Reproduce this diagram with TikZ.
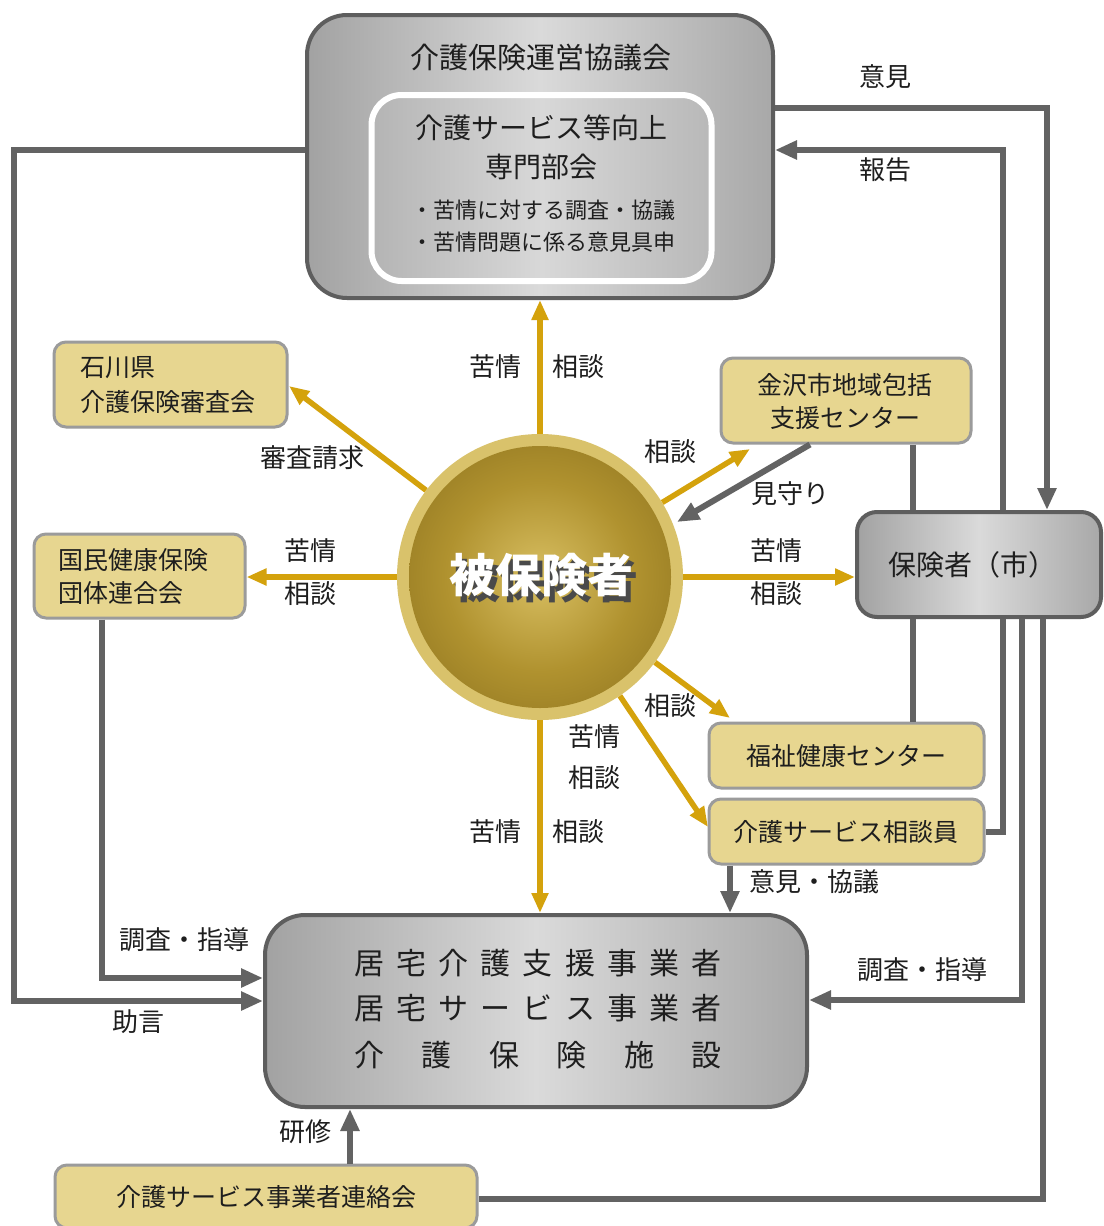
\documentclass[tikz,border=0pt]{standalone}
\usepackage{fontspec}
\newfontfamily\jp{Noto Sans CJK JP}
\usetikzlibrary{arrows.meta}
\definecolor{lineg}{HTML}{636363}
\definecolor{gold}{HTML}{D4A20C}
\definecolor{yfill}{HTML}{E7D690}
\definecolor{ydraw}{HTML}{9B9B9B}
\definecolor{boxdraw}{HTML}{5E5E5E}
\definecolor{gL}{HTML}{A2A2A2}
\definecolor{gM}{HTML}{DADADA}
\definecolor{gR}{HTML}{A8A8A8}
\definecolor{iL}{HTML}{B4B4B4}
\definecolor{iM}{HTML}{D8D8D8}
\definecolor{iR}{HTML}{B8B8B8}
\definecolor{txt}{HTML}{1E1E1E}
\definecolor{ring}{HTML}{D9C26B}
\definecolor{orbin}{HTML}{D8BF62}
\definecolor{orbmid}{HTML}{B0922F}
\definecolor{orbout}{HTML}{6E5710}
\definecolor{shad}{HTML}{4A4A4A}
\pgfdeclareradialshading{orb}{\pgfpoint{0bp}{0bp}}{color(0bp)=(orbin); color(18bp)=(orbmid); color(50bp)=(orbout)}
\begin{document}
\begin{tikzpicture}[x=1pt,y=-1pt,
  gbox/.style={draw=boxdraw, line width=4pt, left color=gL, right color=gR, middle color=gM, inner sep=0pt},
  ybox/.style={draw=ydraw, line width=3pt, fill=yfill, rounded corners=12pt, inner sep=0pt},
  lbl/.style={font=\jp\fontsize{26}{30}\selectfont, text=txt, inner sep=0pt},
  ytxt/.style={font=\jp\fontsize{25}{29}\selectfont, text=txt, inner sep=0pt},
  goldarr/.style={draw=gold, line width=5.5pt, -{Triangle[length=20pt,width=16pt]}},
  grayln/.style={draw=lineg, line width=6pt},
  grayarr/.style={grayln, -{Triangle[length=22pt,width=18pt]}},
]
\useasboundingbox (0,0) rectangle (1103,1226);
\fill[white] (0,0) rectangle (1103,1226);

% ---- boxes ----
\node[gbox, rounded corners=40pt, minimum width=466pt, minimum height=283pt] (kyo) at (540,156.5) {};
\node[draw=white, line width=6pt, rounded corners=30pt, left color=iL, right color=iR, middle color=iM, minimum width=340pt, minimum height=186pt, inner sep=0pt] (sen) at (541.5,188) {};
\node[lbl, font=\jp\fontsize{29}{32}\selectfont] (kyoT) at (541,58) {介護保険運営協議会};
\node[lbl, font=\jp\fontsize{28}{32}\selectfont] (senT1) at (541,128) {介護サービス等向上};
\node[lbl, font=\jp\fontsize{28}{32}\selectfont] (senT2) at (541,167) {専門部会};
\node[lbl, font=\jp\fontsize{22}{26}\selectfont] (senT3) at (543,210) {・苦情に対する調査・協議};
\node[lbl, font=\jp\fontsize{22}{26}\selectfont] (senT4) at (543,242) {・苦情問題に係る意見具申};

\node[gbox, rounded corners=20pt, minimum width=244pt, minimum height=105pt] (hoken) at (979,564.5) {};
\node[lbl, font=\jp\fontsize{28}{32}\selectfont] (hokenT) at (972,565) {保険者（市）};

\node[gbox, rounded corners=40pt, minimum width=542pt, minimum height=192pt] (kyotaku) at (536,1011) {};
\node[lbl, font=\jp\fontsize{30}{34}\selectfont] (kyT1) at (538,963) {\makebox[368pt][s]{居\hfill 宅\hfill 介\hfill 護\hfill 支\hfill 援\hfill 事\hfill 業\hfill 者}};
\node[lbl, font=\jp\fontsize{30}{34}\selectfont] (kyT2) at (538,1008) {\makebox[368pt][s]{居\hfill 宅\hfill サ\hfill ー\hfill ビ\hfill ス\hfill 事\hfill 業\hfill 者}};
\node[lbl, font=\jp\fontsize{30}{34}\selectfont] (kyT3) at (538,1055) {\makebox[368pt][s]{介\hfill 護\hfill 保\hfill 険\hfill 施\hfill 設}};

\node[ybox, minimum width=233pt, minimum height=85pt] (ishi) at (170.5,384.5) {};
\node[ytxt, anchor=west] (ishiT1) at (80,368) {石川県};
\node[ytxt, anchor=west] (ishiT2) at (80,402) {介護保険審査会};

\node[ybox, minimum width=211pt, minimum height=84pt] (kokuho) at (139.5,576) {};
\node[ytxt, anchor=west] (kokuT1) at (58,560) {国民健康保険};
\node[ytxt, anchor=west] (kokuT2) at (58,593) {団体連合会};

\node[ybox, minimum width=250pt, minimum height=85pt] (kana) at (846,400.5) {};
\node[ytxt] (kanaT1) at (845,385) {金沢市地域包括};
\node[ytxt] (kanaT2) at (845,418) {支援センター};

\node[ybox, minimum width=275pt, minimum height=65pt] (fuku) at (846.5,755.5) {};
\node[ytxt] (fukuT) at (846,756) {福祉健康センター};

\node[ybox, minimum width=275pt, minimum height=65pt] (soudan) at (846.5,831.5) {};
\node[ytxt] (soudanT) at (846,832) {介護サービス相談員};

\node[ybox, minimum width=422pt, minimum height=63pt] (renraku) at (266,1196.5) {};
\node[ytxt] (renrakuT) at (266,1197) {介護サービス事業者連絡会};

% ---- central circle ----
\node[circle, fill=ring, minimum size=286pt, inner sep=0pt] (hi) at (540,577) {};
\node[circle, shading=orb, minimum size=262pt, inner sep=0pt] (hiIn) at (540,577) {};
\node[lbl, font=\jp\bfseries\fontsize{46}{50}\selectfont, text=white] (hiT) at (541,578)
  {\makebox[0pt][l]{\hspace{5pt}\raisebox{-6pt}{\textcolor{shad}{被保険者}}}被保険者};

% ---- gold arrows ----
\coordinate (tIshi) at (289,386);
\coordinate (tKana) at (750,449);
\coordinate (tFuku) at (730,718);
\coordinate (tSoud) at (708,827);
\draw[goldarr] (hi.north) -- (hi.north |- kyo.south);
\draw[goldarr] (hi.south) -- (hi.south |- kyotaku.north);
\draw[goldarr] (hi.west) -- (hi.west -| kokuho.east);
\draw[goldarr] (hi.east) -- (hi.east -| hoken.west);
\draw[goldarr] (hi) -- (tIshi);
\draw[goldarr] (hi) -- (tKana);
\draw[goldarr] (hi) -- (tFuku);
\draw[goldarr] (hi) -- (tSoud);

% ---- gray connectors ----
\coordinate (mStart) at ([xshift=-36pt]kana.south);
\coordinate (tMima) at (677,522);
\draw[grayarr] (mStart) -- (tMima);

\coordinate (zA) at ([yshift=6.5pt]kyo.west);
\coordinate (zB) at ([yshift=10pt]kyotaku.west);
\coordinate (xL) at (14,0);
\draw[grayarr] (zA) -| (xL |- zB) -- (zB);

\coordinate (kA) at ([xshift=-37.5pt]kokuho.south);
\coordinate (kB) at ([yshift=33pt]kyotaku.west);
\draw[grayarr] (kA) |- (kB);

\coordinate (iA) at ([yshift=48.5pt]kyo.east);
\coordinate (iB) at ([xshift=68pt]hoken.north);
\draw[grayarr] (iA) -| (iB);

\coordinate (hA) at ([xshift=24pt]hoken.north);
\coordinate (hB) at ([yshift=6.5pt]kyo.east);
\draw[grayarr] (hA) |- (hB);

\coordinate (kzA) at ([xshift=67pt]kana.south);
\draw[grayln] (kzA) -- (kzA |- hoken.north);

\coordinate (hf) at ([xshift=-66pt]hoken.south);
\draw[grayln] (hf) -- (hf |- fuku.north);

\coordinate (hs) at ([xshift=24pt]hoken.south);
\draw[grayln] (hs) |- (soudan.east);

\coordinate (hk) at ([xshift=43pt]hoken.south);
\coordinate (hkB) at ([yshift=11pt]kyotaku.east);
\draw[grayarr] (hk) |- (hkB);

\coordinate (hr) at ([xshift=64pt]hoken.south);
\coordinate (hrB) at ([yshift=-2.5pt]renraku.east);
\draw[grayln] (hr) |- (hrB);

\coordinate (sA) at ([xshift=-116.5pt]soudan.south);
\draw[grayarr] (sA) -- (sA |- kyotaku.north);

\coordinate (rA) at ([xshift=84pt]renraku.north);
\draw[grayarr] (rA) -- (rA |- kyotaku.south);

% ---- labels ----
\node[lbl] (lUp1) at (495,367) {苦情};
\node[lbl] (lUp2) at (578,367) {相談};
\node[lbl] (lShin) at (312,458) {審査請求};
\node[lbl] (lUR) at (670,452) {相談};
\node[lbl] (lMima) at (790,494) {見守り};
\node[lbl] (lL1) at (310,551) {苦情};
\node[lbl] (lL2) at (310,594) {相談};
\node[lbl] (lR1) at (776,551) {苦情};
\node[lbl] (lR2) at (776,594) {相談};
\node[lbl] (lLR) at (670,706) {相談};
\node[lbl] (lLR1) at (594,737) {苦情};
\node[lbl] (lLR2) at (594,778) {相談};
\node[lbl] (lD1) at (495,832) {苦情};
\node[lbl] (lD2) at (578,832) {相談};
\node[lbl] (lIken2) at (814,882) {意見・協議};
\node[lbl] (lChoL) at (184,940) {調査・指導};
\node[lbl] (lJogen) at (138,1022) {助言};
\node[lbl] (lChoR) at (922,970) {調査・指導};
\node[lbl] (lKen) at (305,1132) {研修};
\node[lbl] (lIken) at (885,77) {意見};
\node[lbl] (lHou) at (885,170) {報告};
\end{tikzpicture}
\end{document}
